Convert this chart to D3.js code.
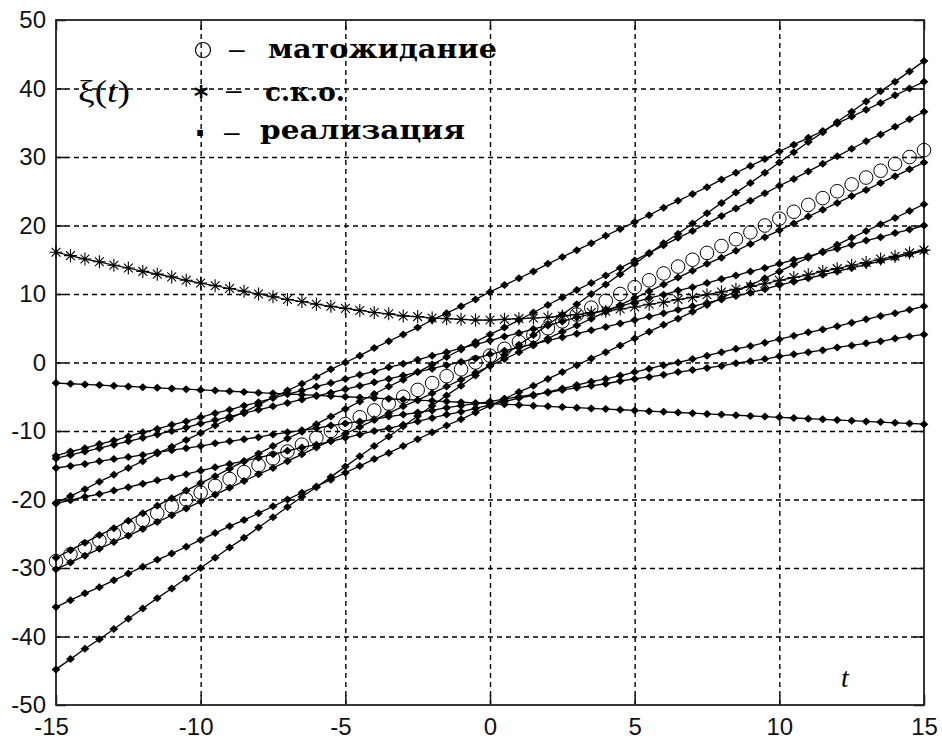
<!DOCTYPE html>
<html><head><meta charset="utf-8">
<script src="https://cdn.jsdelivr.net/npm/d3@7"></script>
<style>
body{margin:0;background:#fff;}
svg{display:block;}
</style></head>
<body>
<svg id="chart" width="942" height="740"></svg>
<script>
// ---- data ----
const tVals = [-15,-14.5,-14,-13.5,-13,-12.5,-12,-11.5,-11,-10.5,-10,-9.5,-9,-8.5,-8,-7.5,-7,-6.5,-6,-5.5,-5,-4.5,-4,-3.5,-3,-2.5,-2,-1.5,-1,-0.5,0,0.5,1,1.5,2,2.5,3,3.5,4,4.5,5,5.5,6,6.5,7,7.5,8,8.5,9,9.5,10,10.5,11,11.5,12,12.5,13,13.5,14,14.5,15];

const meanVals = [-29,-28,-27,-26,-25,-24,-23,-22,-21,-20,-19,-18,-17,-16,-15,-14,-13,-12,-11,-10,-9,-8,-7,-6,-5,-4,-3,-2,-1,0,1,2,3,4,5,6,7,8,9,10,11,12,13,14,15,16,17,18,19,20,21,22,23,24,25,26,27,28,29,30,31];

const skoVals = [16.1,15.6,15.1,14.7,14.2,13.8,13.3,12.9,12.5,12.0,11.6,11.2,10.8,10.4,10.0,9.6,9.2,8.9,8.5,8.2,7.9,7.6,7.3,7.1,6.8,6.7,6.5,6.4,6.3,6.2,6.2,6.3,6.4,6.5,6.6,6.8,7.0,7.3,7.5,7.8,8.1,8.5,8.8,9.2,9.5,9.9,10.3,10.7,11.1,11.5,12.0,12.4,12.8,13.3,13.7,14.2,14.6,15.1,15.5,16.0,16.4];

const real1 = [-3,-3.1,-3.2,-3.3,-3.4,-3.5,-3.6,-3.7,-3.8,-3.9,-4,-4.1,-4.2,-4.3,-4.4,-4.5,-4.6,-4.7,-4.8,-4.9,-5,-5.1,-5.2,-5.3,-5.4,-5.5,-5.6,-5.7,-5.8,-5.9,-6,-6.1,-6.2,-6.3,-6.4,-6.5,-6.6,-6.7,-6.8,-6.9,-7,-7.1,-7.2,-7.3,-7.4,-7.5,-7.6,-7.7,-7.8,-7.9,-8,-8.1,-8.2,-8.3,-8.4,-8.5,-8.6,-8.7,-8.8,-8.9,-9];
const real2 = [-44.8,-43.3,-41.8,-40.4,-38.9,-37.4,-35.9,-34.4,-33,-31.5,-30,-28.5,-27,-25.6,-24.1,-22.6,-21.1,-19.6,-18.2,-16.7,-15.2,-13.7,-12.2,-10.8,-9.3,-7.8,-6.3,-4.8,-3.4,-1.9,-0.4,1.1,2.6,4,5.5,7,8.5,10,11.4,12.9,14.4,15.9,17.4,18.8,20.3,21.8,23.3,24.8,26.2,27.7,29.2,30.7,32.2,33.6,35.1,36.6,38.1,39.6,41,42.5,44];
const real3 = [-35.7,-34.7,-33.7,-32.8,-31.8,-30.8,-29.8,-28.8,-27.9,-26.9,-25.9,-24.9,-23.9,-23,-22,-21,-20,-19,-18.1,-17.1,-16.1,-15.1,-14.1,-13.2,-12.2,-11.2,-10.2,-9.2,-8.3,-7.3,-6.3,-5.3,-4.3,-3.4,-2.4,-1.4,-0.4,0.6,1.5,2.5,3.5,4.5,5.5,6.4,7.4,8.4,9.4,10.4,11.3,12.3,13.3,14.3,15.3,16.2,17.2,18.2,19.2,20.2,21.1,22.1,23.1];
const real4 = [-30.2,-29.2,-28.2,-27.2,-26.2,-25.3,-24.3,-23.3,-22.3,-21.3,-20.3,-19.3,-18.3,-17.3,-16.3,-15.4,-14.4,-13.4,-12.4,-11.4,-10.4,-9.4,-8.4,-7.4,-6.4,-5.5,-4.5,-3.5,-2.5,-1.5,-0.5,0.5,1.5,2.5,3.5,4.5,5.4,6.4,7.4,8.4,9.4,10.4,11.4,12.4,13.4,14.4,15.3,16.3,17.3,18.3,19.3,20.3,21.3,22.3,23.3,24.3,25.2,26.2,27.2,28.2,29.2];
const real5 = [-28.5,-27.4,-26.3,-25.2,-24.2,-23.1,-22,-20.9,-19.8,-18.7,-17.6,-16.6,-15.5,-14.4,-13.3,-12.2,-11.1,-10.1,-9,-7.9,-6.8,-5.7,-4.6,-3.5,-2.5,-1.4,-0.3,0.8,1.9,3,4.1,5.1,6.2,7.3,8.4,9.5,10.6,11.6,12.7,13.8,14.9,16,17.1,18.2,19.2,20.3,21.4,22.5,23.6,24.7,25.8,26.8,27.9,29,30.1,31.2,32.3,33.3,34.4,35.5,36.6];
const real6 = [-20.5,-19.5,-18.5,-17.4,-16.4,-15.4,-14.4,-13.3,-12.3,-11.3,-10.3,-9.2,-8.2,-7.2,-6.2,-5.1,-4.1,-3.1,-2.1,-1,0,1,2.1,3.1,4.1,5.1,6.2,7.2,8.2,9.2,10.3,11.3,12.3,13.3,14.4,15.4,16.4,17.4,18.5,19.5,20.5,21.5,22.6,23.6,24.6,25.6,26.7,27.7,28.7,29.7,30.8,31.8,32.8,33.8,34.9,35.9,36.9,37.9,39,40,41];
const real7 = [-20.6,-20.1,-19.6,-19.2,-18.7,-18.2,-17.7,-17.2,-16.8,-16.3,-15.8,-15.3,-14.8,-14.4,-13.9,-13.4,-12.9,-12.4,-12,-11.5,-11,-10.5,-10,-9.6,-9.1,-8.6,-8.1,-7.6,-7.2,-6.7,-6.2,-5.7,-5.2,-4.8,-4.3,-3.8,-3.3,-2.8,-2.4,-1.9,-1.4,-0.9,-0.4,0,0.5,1,1.5,2,2.4,2.9,3.4,3.9,4.4,4.8,5.3,5.8,6.3,6.8,7.2,7.7,8.2];
const real8 = [-15.4,-15.1,-14.8,-14.4,-14.1,-13.8,-13.5,-13.1,-12.8,-12.5,-12.2,-11.8,-11.5,-11.2,-10.9,-10.5,-10.2,-9.9,-9.6,-9.2,-8.9,-8.6,-8.3,-7.9,-7.6,-7.3,-7,-6.6,-6.3,-6,-5.7,-5.3,-5,-4.7,-4.4,-4,-3.7,-3.4,-3.1,-2.7,-2.4,-2.1,-1.8,-1.4,-1.1,-0.8,-0.5,-0.1,0.2,0.5,0.9,1.2,1.5,1.8,2.2,2.5,2.8,3.1,3.5,3.8,4.1];
const real9 = [-13.6,-13,-12.5,-11.9,-11.4,-10.8,-10.2,-9.7,-9.1,-8.6,-8,-7.4,-6.9,-6.3,-5.8,-5.2,-4.6,-4.1,-3.5,-3,-2.4,-1.8,-1.3,-0.7,-0.2,0.4,1,1.5,2.1,2.6,3.2,3.8,4.3,4.9,5.4,6,6.6,7.1,7.7,8.2,8.8,9.4,9.9,10.5,11,11.6,12.2,12.7,13.3,13.8,14.4,15,15.5,16.1,16.6,17.2,17.8,18.3,18.9,19.4,20];
const real10 = [-14,-13.5,-13,-12.5,-12,-11.5,-11,-10.5,-10,-9.5,-8.9,-8.4,-7.9,-7.4,-6.9,-6.4,-5.9,-5.4,-4.9,-4.4,-3.9,-3.4,-2.9,-2.4,-1.9,-1.4,-0.9,-0.4,0.1,0.6,1.2,1.7,2.2,2.7,3.2,3.7,4.2,4.7,5.2,5.7,6.2,6.7,7.2,7.7,8.2,8.7,9.2,9.7,10.2,10.7,11.3,11.8,12.3,12.8,13.3,13.8,14.3,14.8,15.3,15.8,16.3];
const realizations = [real1, real2, real3, real4, real5, real6, real7, real8, real9, real10];

const xTicks = [-15,-10,-5,0,5,10,15];
const yTicks = [-50,-40,-30,-20,-10,0,10,20,30,40,50];
const legendLabels = ["матожидание", "с.к.о.", "реализация"];

// ---- layout ----
const L = 56, R = 924, T = 20, B = 705;
const svg = d3.select("#chart");
const x = d3.scaleLinear().domain([-15, 15]).range([L, R]);
const y = d3.scaleLinear().domain([-50, 50]).range([B, T]);
const fmt = d => String(d);

// grid
const grid = svg.append("g").attr("class", "grid");
grid.append("g").attr("transform", `translate(0,${B})`)
  .call(d3.axisBottom(x).tickValues(xTicks.slice(1, -1)).tickSize(-(B - T)).tickFormat(""))
  .call(g => g.select(".domain").remove());
grid.append("g").attr("transform", `translate(${L},0)`)
  .call(d3.axisLeft(y).tickValues(yTicks.slice(1, -1)).tickSize(-(R - L)).tickFormat(""))
  .call(g => g.select(".domain").remove());
grid.selectAll("line").attr("stroke", "#000").attr("stroke-width", 1.4).attr("stroke-dasharray", "5,4");

// axes with inward ticks
const fontTick = "'Liberation Sans', Arial, sans-serif";
const axB = svg.append("g").attr("transform", `translate(0,${B})`)
  .call(d3.axisBottom(x).tickValues(xTicks).tickFormat(fmt).tickSizeInner(-10).tickSizeOuter(0).tickPadding(13));
axB.selectAll("text").attr("dx", d => d < 0 ? -5 : 0);
const axL = svg.append("g").attr("transform", `translate(${L},0)`)
  .call(d3.axisLeft(y).tickValues(yTicks).tickFormat(fmt).tickSizeInner(-10).tickSizeOuter(0).tickPadding(10));
const axT = svg.append("g").attr("transform", `translate(0,${T})`)
  .call(d3.axisTop(x).tickValues(xTicks).tickFormat("").tickSizeInner(-10).tickSizeOuter(0));
const axR = svg.append("g").attr("transform", `translate(${R},0)`)
  .call(d3.axisRight(y).tickValues(yTicks).tickFormat("").tickSizeInner(-10).tickSizeOuter(0));
[axB, axL, axT, axR].forEach(a => {
  a.select(".domain").remove();
  a.selectAll("line").attr("stroke", "#111").attr("stroke-width", 1.5);
  a.selectAll("text").attr("font-family", fontTick).attr("font-size", 24).attr("fill", "#111");
});
svg.append("rect").attr("x", L).attr("y", T).attr("width", R - L).attr("height", B - T)
  .attr("fill", "none").attr("stroke", "#222").attr("stroke-width", 1.8);

// ---- data marks ----
const line = d3.line().x((d, i) => x(tVals[i])).y(d => y(d));
const diamond = "M-4.4,0L0,-4L4.4,0L0,4Z";
const star = "M0,-6.5V6.5M-6.5,0H6.5M-4.4,-4.4L4.4,4.4M-4.4,4.4L4.4,-4.4";

const dataG = svg.append("g");
// s.k.o.
dataG.append("path").attr("d", line(skoVals)).attr("fill", "none").attr("stroke", "#000").attr("stroke-width", 1.2);
dataG.append("g").selectAll("path").data(skoVals).join("path")
  .attr("transform", (d, i) => `translate(${x(tVals[i])},${y(d)})`)
  .attr("d", star).attr("fill", "none").attr("stroke", "#000").attr("stroke-width", 1.1);
// mean circles
dataG.append("g").selectAll("circle").data(meanVals).join("circle")
  .attr("cx", (d, i) => x(tVals[i])).attr("cy", d => y(d)).attr("r", 6.8)
  .attr("fill", "none").attr("stroke", "#000").attr("stroke-width", 1);
// realizations
realizations.forEach(r => {
  const g = dataG.append("g");
  g.append("path").attr("d", line(r)).attr("fill", "none").attr("stroke", "#000").attr("stroke-width", 1.3);
  g.selectAll("path.m").data(r).join("path").attr("class", "m")
    .attr("transform", (d, i) => `translate(${x(tVals[i])},${y(d)})`)
    .attr("d", diamond).attr("fill", "#000");
});

// ---- legend ----
const fontLeg = "'DejaVu Serif', 'Liberation Serif', serif";
const leg = svg.append("g");
leg.append("circle").attr("cx", 203).attr("cy", 50).attr("r", 7.5).attr("fill", "none").attr("stroke", "#000").attr("stroke-width", 1.2);
leg.append("text").attr("x", 201).attr("y", 106).attr("text-anchor", "middle")
  .attr("font-family", "'DejaVu Sans', sans-serif").attr("font-weight", "bold").attr("font-size", 28).text("*");
leg.append("text").attr("x", 200).attr("y", 144).attr("text-anchor", "middle")
  .attr("font-family", "'DejaVu Sans', sans-serif").attr("font-size", 32).attr("font-weight", "bold").text("·");
const dashY = [58, 99, 141], dashX = [229, 226, 224];
dashY.forEach((yy, i) => {
  leg.append("text").attr("x", dashX[i]).attr("y", yy).attr("font-family", fontTick)
    .attr("font-size", 28).text("–");
});
const labX = [268, 265, 260], labY = [58, 101, 139], labW = [229, 80, 205];
legendLabels.forEach((s, i) => {
  leg.append("text").attr("x", labX[i]).attr("y", labY[i])
    .attr("font-family", fontLeg).attr("font-weight", "bold").attr("font-size", 26)
    .attr("textLength", labW[i]).attr("lengthAdjust", "spacingAndGlyphs").text(s);
});

// axis titles
const yl = svg.append("text").attr("x", 78).attr("y", 102)
  .attr("font-family", "'Liberation Serif', 'Times New Roman', serif").attr("font-size", 31)
  .attr("textLength", 52).attr("lengthAdjust", "spacingAndGlyphs");
yl.append("tspan").text("ξ(");
yl.append("tspan").attr("font-style", "italic").text("t");
yl.append("tspan").text(")");
svg.append("text").attr("x", 841).attr("y", 687)
  .attr("font-family", "'Liberation Serif', 'Times New Roman', serif").attr("font-style", "italic")
  .attr("font-size", 28).text("t");
</script>
</body></html>
